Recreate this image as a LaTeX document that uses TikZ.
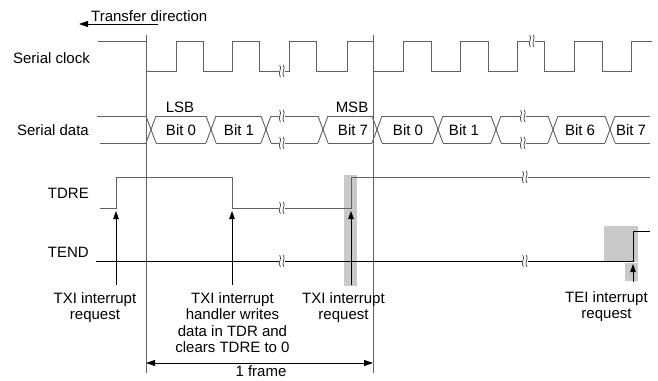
\documentclass[tikz,border=0pt]{standalone}
\usepackage{fontspec}
\setmainfont{Liberation Sans}
\usetikzlibrary{arrows.meta}
\definecolor{wave}{gray}{0.38}
\definecolor{hilite}{gray}{0.79}
\tikzset{
  wv/.style={draw=wave, line width=0.9pt},
  bl/.style={draw=black, line width=0.8pt},
  lbl/.style={font=\fontsize{15}{16.5}\selectfont, inner sep=0pt},
  note/.style={lbl, align=center, anchor=north},
  up/.style={bl, -{Triangle[length=8pt,width=5.5pt]}},
  brk/.pic={
    \fill[white] (-3,-5) rectangle (3,5);
    \draw[black!75, line width=0.7pt] (-2.4,-6) .. controls (0.8,-2.5) and (-5,1.5) .. (-1.6,6);
    \draw[black!75, line width=0.7pt] (1.2,-6) .. controls (4.4,-2.5) and (-1.4,1.5) .. (2,6);
  }
}
\begin{document}
\begin{tikzpicture}[x=1pt,y=-1pt]
\useasboundingbox (0,0) rectangle (658,380);
% gray highlight boxes
\fill[hilite] (344,175) rectangle (357,286);
\fill[hilite] (604,226) rectangle (638,262);
\fill[hilite] (625,263) rectangle (638,281);
% transfer direction
\node[lbl, anchor=base west] (td) at (91,21) {Transfer direction};
\coordinate (tdA) at (158,24);
\coordinate (tdB) at (79,24);
\draw[bl, -{Triangle[length=9pt,width=6pt]}] (tdA) -- (tdB);
% frame lines
\coordinate (f1t) at (146,35); \coordinate (f1b) at (146,373);
\coordinate (f2t) at (373,35); \coordinate (f2b) at (373,373);
\draw[wv] (f1t) -- (f1b);
\draw[wv] (f2t) -- (f2b);
% signal names
\node[lbl, anchor=base east] (nclk) at (90,63) {Serial clock};
\node[lbl, anchor=base east] (ndat) at (89,135) {Serial data};
\node[lbl, anchor=base east] (ntdre) at (89,198) {TDRE};
\node[lbl, anchor=base east] (ntend) at (89,257) {TEND};
% clock
\draw[wv] (98,41) -- (146,41) -- (146,71) -- (176,71) -- (176,41) -- (203,41) -- (203,71)
  -- (232,71) -- (232,41) -- (259,41) -- (259,71) -- (289,71) -- (289,41) -- (316,41)
  -- (316,71) -- (347,71) -- (347,41) -- (373,41) -- (373,71) -- (403,71) -- (403,41)
  -- (431,41) -- (431,71) -- (460,71) -- (460,41) -- (488,41) -- (488,71) -- (517,71)
  -- (517,41) -- (544,41) -- (544,71) -- (574,71) -- (574,41) -- (602,41) -- (602,71)
  -- (631,71) -- (631,41) -- (652,41);
\pic at (282,71) {brk};
\pic at (532,41) {brk};
% serial data
\draw[wv] (97,116) -- (146,116);
\draw[wv] (100,143) -- (146,143);
\foreach \c in {151,211,266,323,377,438,496,553,610}{
  \draw[wv] (\c-5,116) -- (\c+5,143);
  \draw[wv] (\c-5,143) -- (\c+5,116);
}
\foreach \a/\b in {151/211,211/266,266/323,323/377,377/438,438/496,496/553,553/610}{
  \draw[wv] (\a+5,116) -- (\b-5,116);
  \draw[wv] (\a+5,143) -- (\b-5,143);
}
\draw[wv] (615,116) -- (650,116);
\draw[wv] (615,143) -- (650,143);
\pic at (282,116) {brk};
\pic at (282,143) {brk};
\pic at (523,116) {brk};
\pic at (523,143) {brk};
\node[lbl, anchor=base] (lsb) at (180,112) {LSB};
\node[lbl, anchor=base] (msb) at (352,112) {MSB};
\node[lbl, anchor=base] (b0) at (181,135) {Bit 0};
\node[lbl, anchor=base] (b1) at (239,135) {Bit 1};
\node[lbl, anchor=base] (b7) at (353,135) {Bit 7};
\node[lbl, anchor=base] (c0) at (408,135) {Bit 0};
\node[lbl, anchor=base] (c1) at (464,135) {Bit 1};
\node[lbl, anchor=base] (c6) at (580,135) {Bit 6};
\node[lbl, anchor=base] (c7) at (631,135) {Bit 7};
% TDRE
\draw[wv] (100,208) -- (116,208) -- (116,177) -- (232,177) -- (232,208) -- (351,208)
  -- (351,177) -- (650,177);
\pic at (282,208) {brk};
\pic at (525,177) {brk};
% TEND
\draw[bl] (96,261) -- (633,261) -- (633,231) -- (650,231);
\pic at (282,261) {brk};
\pic at (525,261) {brk};
% interrupt arrows
\coordinate (a1b) at (116,285); \coordinate (a1t) at (116,211);
\coordinate (a2b) at (232,285); \coordinate (a2t) at (232,211);
\coordinate (a3b) at (351,285); \coordinate (a3t) at (351,211);
\coordinate (a4b) at (633,282); \coordinate (a4t) at (633,264);
\draw[up] (a1b) -- (a1t);
\draw[up] (a2b) -- (a2t);
\draw[up] (a3b) -- (a3t);
\draw[up] (a4b) -- (a4t);
\node[note] (t1) at (95,292) {TXI interrupt\\request};
\node[note] (t2) at (232.5,292) {TXI interrupt\\handler writes\\data in TDR and\\clears TDRE to 0};
\node[note] (t3) at (343.5,292) {TXI interrupt\\request};
\node[note] (t4) at (606.5,291) {TEI interrupt\\request};
% 1 frame
\coordinate (fa) at (146,363); \coordinate (fb) at (373,363);
\draw[bl, {Triangle[length=9pt,width=6pt]}-{Triangle[length=9pt,width=6pt]}] (fa) -- (fb);
\node[lbl, anchor=base] (fr) at (261,376.5) {1 frame};
\end{tikzpicture}
\end{document}
